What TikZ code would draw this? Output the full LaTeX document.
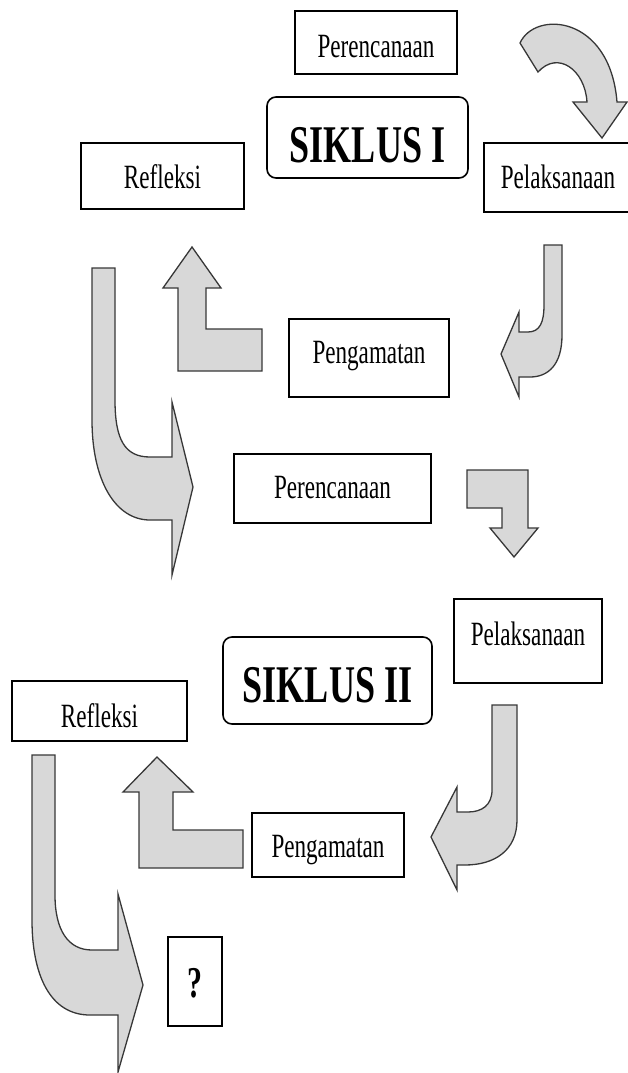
\documentclass[tikz,border=0pt]{standalone}
\usepackage{fontspec}
\setmainfont{Liberation Serif}[FakeStretch=0.68]
\definecolor{arrfill}{RGB}{216,216,216}
\definecolor{arrline}{RGB}{55,55,55}
\tikzset{
  box/.style={draw=black, line width=1.6pt, fill=white, inner sep=0pt, text depth=0pt,
              font=\fontsize{34}{40}\selectfont},
  sbox/.style={box, rounded corners=9pt, font=\bfseries\fontsize{53}{60}\selectfont},
  qbox/.style={box, font=\bfseries\fontsize{44}{50}\selectfont},
  blockarrow/.style={draw=arrline, fill=arrfill, line width=1.3pt, line join=miter}
}
\begin{document}
\begin{tikzpicture}[x=1pt,y=-1pt]
\useasboundingbox (0,0) rectangle (628,1073);

% ---------- boxes, cycle I ----------
\node[box, minimum width=162pt, minimum height=63pt, text height=29pt] (per1) at (376,42.5) {Perencanaan};
\node[sbox, minimum width=201pt, minimum height=81pt, text height=49pt] (sik1) at (367.5,137.5) {SIKLUS I};
\node[box, minimum width=163pt, minimum height=66pt, text height=24pt] (ref1) at (162.5,176) {Refleksi};
\node[box, minimum width=148pt, minimum height=69pt, text height=21pt] (pel1) at (558,177.5) {Pelaksanaan};
\node[box, minimum width=160pt, minimum height=78pt, text height=10pt] (pen1) at (369,358) {Pengamatan};
\node[box, minimum width=197pt, minimum height=69pt, text height=19pt] (per2) at (332.5,488.5) {Perencanaan};

% ---------- boxes, cycle II ----------
\node[box, minimum width=148pt, minimum height=84pt, text height=8pt, text depth=0pt] (pel2) at (528,641) {\raisebox{0pt}{Pelaksanaan}};
\node[sbox, minimum width=209pt, minimum height=87pt, text height=43pt] (sik2) at (327.5,680.5) {SIKLUS II};
\node[box, minimum width=175pt, minimum height=60pt, text height=32pt] (ref2) at (99.5,711) {Refleksi};
\node[box, minimum width=152pt, minimum height=64pt, text height=24pt] (pen2) at (328,845) {Pengamatan};
\node[qbox, minimum width=54pt, minimum height=89pt, text height=31pt] (q) at (195,981.5) {?};

% ---------- block arrows ----------
% Perencanaan -> Pelaksanaan (curved, top right)
\draw[blockarrow] (520,43) .. controls (535,10) and (610,15) .. (617,102)
  -- (627,102) -- (602,138) -- (573,102) -- (587,102)
  .. controls (585,70) and (558,50) .. (538,72) -- cycle;

% Pelaksanaan -> Pengamatan (cycle I)
\draw[blockarrow] (544,245) -- (562,245) -- (562,335)
  .. controls (562,365) and (548,377) .. (530,377) -- (519,377)
  -- (519,397) -- (501,354) -- (519,312) -- (519,332) -- (528,332)
  .. controls (540,332) and (544,322) .. (544,305) -- cycle;

% Pengamatan -> Refleksi (cycle I)
\draw[blockarrow] (192,247) -- (221,288) -- (206,288) -- (206,329) -- (262,329)
  -- (262,371) -- (178,371) -- (178,288) -- (163,288) -- cycle;

% Refleksi -> Perencanaan (to cycle II)
\draw[blockarrow] (92,268) -- (115,268) -- (115,400)
  .. controls (115,440) and (125,457) .. (150,457) -- (172,457)
  -- (172,402) -- (193,487) -- (172,575) -- (172,520) -- (150,520)
  .. controls (115,520) and (92,480) .. (92,420) -- cycle;

% Perencanaan -> Pelaksanaan (cycle II)
\draw[blockarrow] (467,470) -- (528,470) -- (528,528) -- (538,528) -- (514,557)
  -- (490,528) -- (502,528) -- (502,508) -- (467,508) -- cycle;

% Pelaksanaan -> Pengamatan (cycle II)
\draw[blockarrow] (492,705) -- (517,705) -- (517,820)
  .. controls (517,850) and (495,865) .. (465,865) -- (457,865)
  -- (457,890) -- (431,837) -- (457,787) -- (457,812) -- (468,812)
  .. controls (482,812) and (492,805) .. (492,790) -- cycle;

% Pengamatan -> Refleksi (cycle II)
\draw[blockarrow] (157,757) -- (193,792) -- (173,792) -- (173,830) -- (243,830)
  -- (243,868) -- (139,868) -- (139,792) -- (123,792) -- cycle;

% Refleksi -> ?
\draw[blockarrow] (32,755) -- (55,755) -- (55,895)
  .. controls (55,930) and (68,950) .. (92,950) -- (118,950)
  -- (118,894) -- (143,985) -- (118,1072) -- (118,1015) -- (90,1015)
  .. controls (50,1015) and (32,975) .. (32,920) -- cycle;
\end{tikzpicture}
\end{document}
